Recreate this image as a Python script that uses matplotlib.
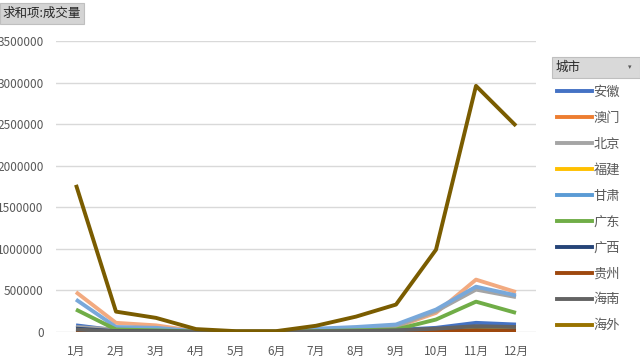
import matplotlib.pyplot as plt
from matplotlib.lines import Line2D
from matplotlib.patches import Rectangle

plt.rcParams['font.family'] = ['Noto Sans CJK SC', 'DejaVu Sans']

# 数据
months = ['1月', '2月', '3月', '4月', '5月', '6月', '7月', '8月', '9月', '10月', '11月', '12月']
cities = ['安徽', '澳门', '北京', '福建', '甘肃', '广东', '广西', '贵州', '海南', '海外']

anhui = [80000, 20000, 15000, 5000, 3000, 3000, 8000, 15000, 25000, 50000, 110000, 90000]
aomen = [480000, 110000, 80000, 10000, 5000, 5000, 20000, 40000, 60000, 230000, 630000, 480000]
beijing = [60000, 30000, 25000, 5000, 3000, 3000, 15000, 40000, 70000, 250000, 510000, 420000]
fujian = [20000, 5000, 5000, 2000, 1000, 1000, 3000, 5000, 10000, 15000, 30000, 25000]
gansu = [390000, 60000, 50000, 10000, 5000, 5000, 40000, 60000, 90000, 270000, 545000, 440000]
guangdong = [270000, 30000, 20000, 5000, 3000, 3000, 10000, 20000, 30000, 150000, 365000, 230000]
guangxi = [40000, 10000, 8000, 2000, 1000, 1000, 3000, 5000, 8000, 10000, 20000, 15000]
guizhou = [10000, 3000, 3000, 1000, 500, 500, 2000, 3000, 5000, 8000, 15000, 10000]
hainan = [30000, 8000, 6000, 2000, 1000, 1000, 5000, 10000, 20000, 40000, 70000, 60000]
haiwai = [1770000, 245000, 170000, 35000, 10000, 10000, 75000, 185000, 330000, 990000, 2960000, 2480000]

yticks = [0, 500000, 1000000, 1500000, 2000000, 2500000, 3000000, 3500000]

series = [anhui, aomen, beijing, fujian, gansu, guangdong, guangxi, guizhou, hainan, haiwai]
# 图例颜色 / 图中线条颜色（图中略浅）
colors = ['#4472C4', '#ED7D31', '#A5A5A5', '#FFC000', '#5B9BD5',
          '#70AD47', '#264478', '#9E480E', '#636363', '#997300']
line_colors = ['#4472C4', '#F2AA80', '#A5A5A5', '#FFC000', '#78A8DA',
               '#70AD47', '#264478', '#9E480E', '#636363', '#7A5C00']

W, H = 640, 363
fig = plt.figure(figsize=(6.4, 3.63), dpi=100)
ax = fig.add_axes([56 / W, (H - 332) / H, 480 / W, (332 - 41) / H])

x = range(len(months))
for name, vals, c in zip(cities, series, line_colors):
    ax.plot(x, vals, color=c, lw=2.8, solid_capstyle='butt')

ax.set_xlim(-0.5, 11.5)
ax.set_ylim(0, 3500000)
ax.set_xticks(list(x))
ax.set_xticklabels(months)
ax.set_yticks(yticks)
ax.set_yticklabels([str(v) for v in yticks])
ax.grid(axis='y', color='#d9d9d9', lw=1)
ax.set_axisbelow(True)
for s in ax.spines.values():
    s.set_visible(False)
ax.tick_params(length=0, labelsize=8.5, colors='#595959')
ax.tick_params(axis='y', pad=9)
ax.tick_params(axis='x', pad=9)

# 字段按钮
fig.patches.append(Rectangle((0, (H - 24) / H), 84 / W, 21 / H, transform=fig.transFigure,
                             facecolor='#d4d4d4', edgecolor='#bfbfbf', lw=0.8))
fig.text(2 / W, (H - 13.5) / H, '求和项:成交量', fontsize=9, va='center', ha='left', color='#262626')

fig.patches.append(Rectangle((552 / W, (H - 78) / H), 88 / W, 21 / H, transform=fig.transFigure,
                             facecolor='#d9d9d9', edgecolor='#bfbfbf', lw=0.8))
fig.text(556 / W, (H - 67.5) / H, '城市', fontsize=9, va='center', ha='left', color='#262626')
fig.text(630 / W, (H - 67.5) / H, '▾', fontsize=5, va='center', ha='center', color='#595959',
         family=['DejaVu Sans'])

handles = [Line2D([], [], color=c, lw=2.8) for c in colors]
leg = fig.legend(handles=handles, labels=cities, loc='upper left',
                 bbox_to_anchor=(557 / W, (H - 86) / H),
                 frameon=False, fontsize=9.5, handlelength=2.65, handletextpad=0.1,
                 labelspacing=0.98, borderaxespad=0, borderpad=0)
for t in leg.get_texts():
    t.set_color('#595959')

fig.savefig('out.png', dpi=100)
